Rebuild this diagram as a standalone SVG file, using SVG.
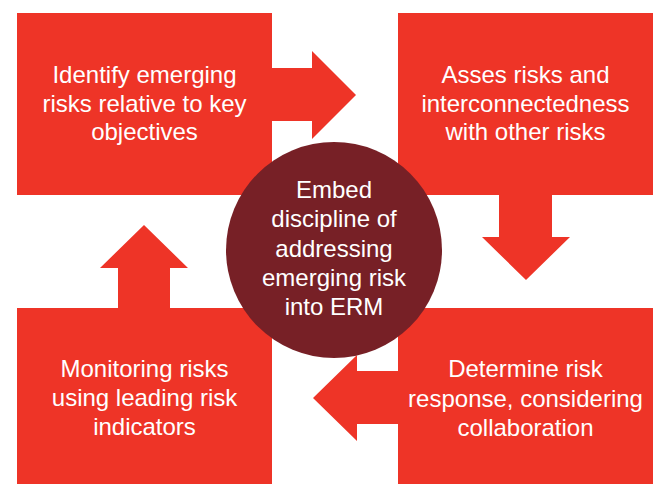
<svg xmlns="http://www.w3.org/2000/svg" width="660" height="484" viewBox="0 0 660 484">
<style>
.box{fill:#EE3427}
.arr{fill:#EE3427}
.hub{fill:#772026}
text{font-family:"Liberation Sans",Arial,Helvetica,sans-serif;font-size:24px;fill:#FFFFFF;text-anchor:middle}
</style>
<rect width="660" height="484" fill="#FFFFFF"/>
<g id="connectors">
<polygon class="arr" points="270,68 312,68 312,51 356,95 312,139 312,121 270,121"/>
<polygon class="arr" points="499,193 552,193 552,237 570,237 526,280 482,237 499,237"/>
<polygon class="arr" points="400,371 357,371 357,355 313,398 357,441 357,424 400,424"/>
<polygon class="arr" points="118,310 118,268 100,268 144,225 188,268 170,268 170,310"/>
</g>
<g id="node-identify">
<rect class="box" x="17" y="13" width="255" height="182"/>
<text x="144.5" y="83">Identify emerging</text>
<text x="144.5" y="111.5">risks relative to key</text>
<text x="144.5" y="140">objectives</text>
</g>
<g id="node-assess">
<rect class="box" x="398" y="13" width="255" height="182"/>
<text x="525.5" y="83">Asses risks and</text>
<text x="525.5" y="111.5">interconnectedness</text>
<text x="525.5" y="140">with other risks</text>
</g>
<g id="node-monitor">
<rect class="box" x="17" y="308" width="255" height="176"/>
<text x="144.5" y="377">Monitoring risks</text>
<text x="144.5" y="406">using leading risk</text>
<text x="144.5" y="435">indicators</text>
</g>
<g id="node-determine">
<rect class="box" x="398" y="308" width="255" height="176"/>
<text x="525.5" y="377">Determine risk</text>
<text x="525.5" y="406.5">response, considering</text>
<text x="525.5" y="436">collaboration</text>
</g>
<g id="node-embed">
<circle class="hub" cx="334" cy="250" r="108"/>
<text x="334" y="198">Embed</text>
<text x="334" y="227">discipline of</text>
<text x="334" y="256.5">addressing</text>
<text x="334" y="286">emerging risk</text>
<text x="334" y="315">into ERM</text>
</g>
</svg>
